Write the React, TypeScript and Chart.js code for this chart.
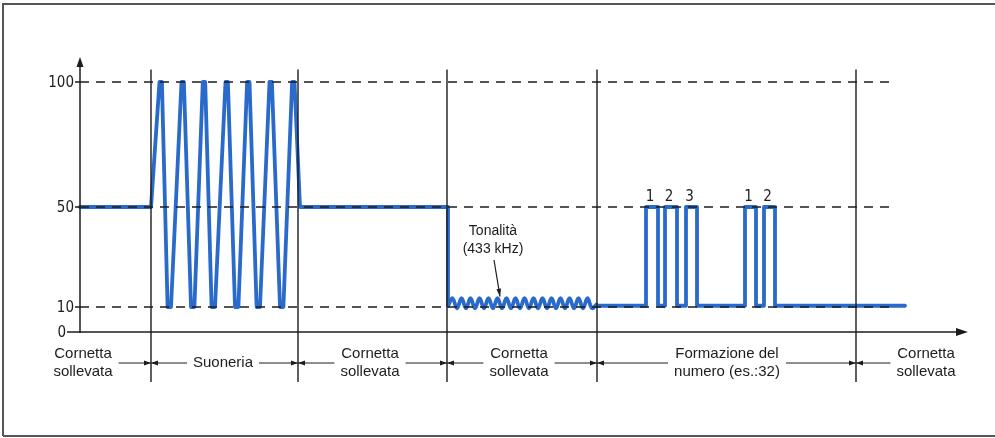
import { useEffect, useRef } from "react";
import Chart from "chart.js/auto";

// y levels (arbitrary signal units)
const yTicks = [0, 10, 50, 100];
const dashedLevels = [10, 50, 100];

// time axis: section boundaries and labels
const sectionBounds = [71, 218, 367, 517, 776];
const sectionCenters = [3, 143, 290, 439, 647, 846];
const sectionLabels = [
  ["Cornetta", "sollevata"],
  ["Suoneria"],
  ["Cornetta", "sollevata"],
  ["Cornetta", "sollevata"],
  ["Formazione del", "numero (es.:32)"],
  ["Cornetta", "sollevata"],
];

// off-hook + ringing + off-hook
const ringX = [
  0, 71, 79.5, 81.9, 87.6, 91, 101.5, 103.9, 111, 114.4, 122.8, 125.2, 131.6, 135,
  145.5, 147.9, 155, 158.4, 167.1, 169.5, 176.6, 180, 189.5, 191.9, 200, 203.4,
  212.1, 214.5, 220, 368, 368,
];
const ringY = [
  50, 50, 100, 100, 10, 10, 100, 100, 10, 10, 100, 100, 10, 10,
  100, 100, 10, 10, 100, 100, 10, 10, 100, 100, 10, 10,
  100, 100, 50, 50, 10.5,
];

// dial tone
const toneX = [
  368, 372.5, 377, 381.5, 386, 390.5, 395, 399.5, 404, 408.5, 413, 417.5, 422, 426.5,
  431, 435.5, 440, 444.5, 449, 453.5, 458, 462.5, 467, 471.5, 476, 480.5, 485, 489.5,
  494, 498.5, 503, 507.5, 512, 516.5,
];
const toneY = [
  10.5, 13.5, 9.5, 13.5, 9.5, 13.5, 9.5, 13.5, 9.5, 13.5, 9.5, 13.5, 9.5, 13.5,
  9.5, 13.5, 9.5, 13.5, 9.5, 13.5, 9.5, 13.5, 9.5, 13.5, 9.5, 13.5, 9.5, 13.5,
  9.5, 13.5, 9.5, 13.5, 9.5, 11,
];

// dialling pulses (number 32)
const dialX = [
  516.5, 566, 566, 578, 578, 585, 585, 597, 597, 606, 606, 617, 617,
  665, 665, 676, 676, 684, 684, 695, 695, 825,
];
const dialY = [
  10.5, 10.5, 50, 50, 10.5, 10.5, 50, 50, 10.5, 10.5, 50, 50, 10.5,
  10.5, 50, 50, 10.5, 10.5, 50, 50, 10.5, 10.5,
];
const pulseDigits = ["1", "2", "3", "1", "2"];
const pulseCenters = [572, 591, 611.5, 670.5, 689.5];

const BLUE = "#2a6acb";
const INK = "#1c1c1c";
const FONT = "'Liberation Sans', Arial, sans-serif";
const NARROW = "'Liberation Sans Narrow', 'DejaVu Sans Condensed', Arial, sans-serif";

const zip = (xs: number[], ys: number[]) => xs.map((x, i) => ({ x, y: ys[i] }));

const arrowHead = (ctx: CanvasRenderingContext2D, x: number, y: number, dir: "up" | "right" | "left", len: number, half: number) => {
  ctx.beginPath();
  ctx.moveTo(x, y);
  if (dir === "up") {
    ctx.lineTo(x - half, y + len);
    ctx.lineTo(x + half, y + len);
  } else if (dir === "right") {
    ctx.lineTo(x - len, y - half);
    ctx.lineTo(x - len, y + half);
  } else {
    ctx.lineTo(x + len, y - half);
    ctx.lineTo(x + len, y + half);
  }
  ctx.closePath();
  ctx.fill();
};

const diagram = {
  id: "diagram",
  afterDatasetsDraw(chart: any) {
    const { ctx, chartArea, scales } = chart;
    const xs = scales.x;
    const ys = scales.y;
    const left = chartArea.left;
    const y0 = ys.getPixelForValue(0);
    ctx.save();
    ctx.strokeStyle = INK;
    ctx.fillStyle = INK;

    // frame
    ctx.strokeStyle = "#555";
    ctx.lineWidth = 2;
    ctx.beginPath();
    ctx.moveTo(3, 436);
    ctx.lineTo(3, 4);
    ctx.lineTo(995, 4);
    ctx.moveTo(3, 436);
    ctx.lineTo(995, 436);
    ctx.stroke();
    ctx.strokeStyle = INK;

    // dashed reference levels
    ctx.lineWidth = 1.3;
    ctx.setLineDash([9, 7]);
    dashedLevels.forEach((v) => {
      const py = ys.getPixelForValue(v);
      ctx.beginPath();
      ctx.moveTo(left, py);
      ctx.lineTo(xs.getPixelForValue(813), py);
      ctx.stroke();
    });
    ctx.setLineDash([]);

    // section boundaries
    ctx.lineWidth = 1.4;
    sectionBounds.forEach((b) => {
      const px = xs.getPixelForValue(b);
      ctx.beginPath();
      ctx.moveTo(px, ys.getPixelForValue(105));
      ctx.lineTo(px, ys.getPixelForValue(-20));
      ctx.stroke();
    });

    // axes
    ctx.lineWidth = 1.5;
    const yTop = ys.getPixelForValue(110);
    ctx.beginPath();
    ctx.moveTo(left, y0 + 1);
    ctx.lineTo(left, yTop + 8);
    ctx.stroke();
    arrowHead(ctx, left, yTop, "up", 10, 3.5);
    const xEnd = xs.getPixelForValue(888);
    ctx.beginPath();
    ctx.moveTo(left, y0);
    ctx.lineTo(xEnd - 8, y0);
    ctx.stroke();
    arrowHead(ctx, xEnd, y0, "right", 12, 4);

    // y ticks
    ctx.font = `15px ${NARROW}`;
    ctx.textAlign = "right";
    ctx.textBaseline = "middle";
    yTicks.forEach((t) => {
      const py = ys.getPixelForValue(t);
      ctx.beginPath();
      ctx.moveTo(left - (t === 0 ? 13 : 5), py);
      ctx.lineTo(left, py);
      ctx.stroke();
      ctx.fillText(String(t), left - (t === 0 ? 14 : 6), py + 1);
    });

    // section labels with dimension lines
    ctx.font = `15px ${FONT}`;
    ctx.textAlign = "center";
    const dimY = ys.getPixelForValue(-12.4);
    const edges = sectionLabels.map((lines, i) => {
      const cx = xs.getPixelForValue(sectionCenters[i]);
      const w = Math.max(...lines.map((l) => ctx.measureText(l).width));
      if (lines.length === 1) {
        ctx.fillText(lines[0], cx, dimY);
      } else {
        ctx.fillText(lines[0], cx, dimY - 9);
        ctx.fillText(lines[1], cx, dimY + 9);
      }
      return [cx - w / 2, cx + w / 2];
    });
    ctx.lineWidth = 1.2;
    sectionBounds.forEach((b, i) => {
      const px = xs.getPixelForValue(b);
      ctx.beginPath();
      ctx.moveTo(edges[i][1] + 6, dimY);
      ctx.lineTo(edges[i + 1][0] - 6, dimY);
      ctx.stroke();
      arrowHead(ctx, px, dimY, "right", 7, 2.5);
      arrowHead(ctx, px, dimY, "left", 7, 2.5);
    });

    // pulse digits
    ctx.font = `15px ${NARROW}`;
    ctx.textBaseline = "alphabetic";
    pulseDigits.forEach((d, i) => {
      ctx.fillText(d, xs.getPixelForValue(pulseCenters[i] - 2), ys.getPixelForValue(52.5));
    });

    // tone annotation
    ctx.font = `14px ${FONT}`;
    ctx.textBaseline = "middle";
    ctx.fillText("Tonalità", xs.getPixelForValue(413), ys.getPixelForValue(40.4));
    ctx.fillText("(433 kHz)", xs.getPixelForValue(413), ys.getPixelForValue(33.2));
    const ax0 = xs.getPixelForValue(414);
    const ay0 = ys.getPixelForValue(28.8);
    const ax1 = xs.getPixelForValue(420);
    const ay1 = ys.getPixelForValue(14.2);
    ctx.lineWidth = 1.2;
    ctx.beginPath();
    ctx.moveTo(ax0, ay0);
    ctx.lineTo(ax1, ay1);
    ctx.stroke();
    const ang = Math.atan2(ay1 - ay0, ax1 - ax0);
    ctx.beginPath();
    ctx.moveTo(ax1, ay1);
    ctx.lineTo(ax1 - 8 * Math.cos(ang - 0.3), ay1 - 8 * Math.sin(ang - 0.3));
    ctx.lineTo(ax1 - 8 * Math.cos(ang + 0.3), ay1 - 8 * Math.sin(ang + 0.3));
    ctx.closePath();
    ctx.fill();

    ctx.restore();
  },
};

const App = () => {
  const canvasRef = useRef<HTMLCanvasElement>(null);

  useEffect(() => {
    if (!canvasRef.current) return;
    const line = {
      borderColor: BLUE,
      borderWidth: 3.8,
      pointRadius: 0,
      borderJoinStyle: "round" as const,
      borderCapStyle: "round" as const,
      clip: false as const,
    };
    const chart = new Chart(canvasRef.current, {
      type: "line",
      data: {
        datasets: [
          { ...line, label: "Suoneria", data: zip(ringX, ringY), tension: 0 },
          { ...line, label: "Tonalità", data: zip(toneX, toneY), tension: 0.4 },
          { ...line, label: "Formazione del numero", data: zip(dialX, dialY), tension: 0 },
        ],
      },
      options: {
        responsive: false,
        animation: false,
        layout: { padding: { left: 80, right: 25, top: 82, bottom: 106 } },
        scales: {
          x: { type: "linear", min: 0, max: 890, display: false },
          y: { type: "linear", min: 0, max: 100, display: false },
        },
        plugins: {
          legend: { display: false },
          tooltip: { enabled: false },
        },
      },
      plugins: [diagram],
    });
    return () => {
      chart.destroy();
    };
  }, []);

  return (
    <div style={{ position: "absolute", left: 0, top: 0, width: 995, height: 438, background: "#fff" }}>
      <canvas ref={canvasRef} width={995} height={438} style={{ display: "block" }}></canvas>
    </div>
  );
};

export default App;
